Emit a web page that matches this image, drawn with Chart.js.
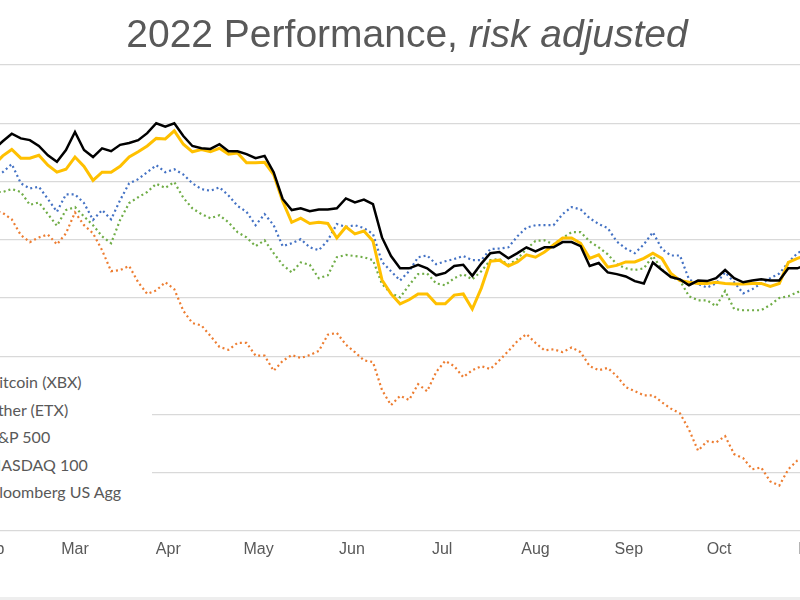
<!DOCTYPE html>
<html>
<head>
<meta charset="utf-8">
<script src="https://cdn.jsdelivr.net/npm/chart.js@4.4.1/dist/chart.umd.min.js"></script>
<style>
  html, body { margin: 0; padding: 0; width: 800px; height: 600px; overflow: hidden; background: #fff; }
  #wrap { position: relative; width: 800px; height: 600px; overflow: hidden; }
  #chart { position: absolute; left: -150px; top: 0; }
  #title {
    position: absolute; left: 0; top: 14px; width: 814px; text-align: center;
    font-family: 'Liberation Sans', Arial, sans-serif; font-size: 39px; line-height: 39px;
    color: #595959; white-space: nowrap;
  }
  #legend {
    position: absolute; left: -70px; top: 366px; width: 222px; height: 140px;
    background: #fff; font-family: Lato, 'Noto Sans', sans-serif; font-size: 16px; color: #595959;
  }
  .item { position: absolute; left: 0; height: 20px; line-height: 20px; white-space: nowrap; }
  .mark { display: inline-block; width: 36px; vertical-align: middle; margin-right: 23px; }
  #foot { position: absolute; left: 0; bottom: 0; width: 800px; height: 3px; background: #eeeeee; }
</style>
</head>
<body>
<div id="wrap">
  <canvas id="chart" width="1100" height="600"></canvas>
  <div id="title">2022 Performance, <i>risk adjusted</i></div>
  <div id="legend"></div>
  <div id="foot"></div>
</div>
<script>
// Day of year (Jan 1 = 0), sampled every 3 days
const days = [32,35,38,41,44,47,50,53,56,59,62,65,68,71,74,77,80,83,86,89,
  92,95,98,101,104,107,110,113,116,119,122,125,128,131,134,137,140,143,146,149,
  152,155,158,161,164,167,170,173,176,179,182,185,188,191,194,197,200,203,206,209,
  212,215,218,221,224,227,230,233,236,239,242,245,248,251,254,257,260,263,266,269,
  272,275,278,281,284,287,290,293,296,299,302];

// Month ticks
const monthStarts = [0,31,59,90,120,151,181,212,243,273,304,334];
const monthNames = ['Jan','Feb','Mar','Apr','May','Jun','Jul','Aug','Sep','Oct','Nov','Dec'];

// Series values (risk adjusted performance)
const bitcoin = [-4.5,-3.1,-1.8,-2.6,-2.9,-3.9,-5.5,-6.6,-4.6,-1.5,
  -4.6,-5.8,-4.3,-4.8,-3.7,-3.4,-2.9,-1.7,0.0,-0.6,
  0.0,-2.2,-3.9,-4.3,-4.4,-3.6,-4.8,-4.8,-5.3,-6.0,
  -5.6,-8.4,-13.0,-14.9,-14.6,-15.1,-14.8,-14.8,-14.6,-12.9,
  -13.6,-13.1,-13.9,-19.6,-22.8,-24.9,-24.9,-24.3,-24.9,-26.1,
  -25.7,-24.5,-24.3,-26.2,-24.1,-22.3,-22.1,-23.2,-22.3,-21.3,
  -22.0,-21.3,-21.3,-20.4,-20.4,-21.1,-24.5,-24.0,-25.6,-25.9,
  -26.3,-27.1,-27.5,-23.9,-25.2,-26.4,-26.8,-27.8,-27.0,-27.1,
  -26.6,-25.2,-26.6,-27.3,-27.0,-26.8,-27.0,-27.0,-24.9,-24.9,
  -24.3];
const ether = [-7.2,-5.6,-4.5,-6.0,-6.0,-5.5,-7.2,-8.4,-7.9,-5.8,
  -7.4,-9.8,-8.4,-8.4,-7.4,-5.8,-4.9,-3.9,-2.6,-2.7,
  -1.3,-3.6,-4.9,-4.5,-4.9,-4.3,-5.3,-5.1,-6.8,-6.8,
  -6.7,-8.8,-13.4,-17.0,-16.3,-17.2,-17.0,-17.2,-19.7,-17.8,
  -19.0,-18.5,-20.2,-26.9,-29.3,-31.0,-30.3,-29.3,-29.3,-31.0,
  -31.0,-29.5,-29.3,-31.9,-28.3,-23.7,-23.5,-24.5,-23.8,-22.6,
  -23.0,-22.1,-20.9,-19.7,-19.7,-20.6,-23.2,-22.6,-24.7,-24.4,
  -23.8,-23.8,-23.2,-22.3,-23.2,-25.8,-27.0,-27.3,-27.5,-27.5,
  -27.3,-27.5,-27.6,-27.6,-27.5,-27.5,-28.0,-27.5,-23.9,-23.2,
  -22.7];
const sp500 = [-9.4,-8.4,-7.0,-10.3,-11.2,-10.9,-13.0,-15.2,-12.2,-12.2,
  -13.7,-16.6,-14.9,-16.5,-13.2,-10.3,-9.6,-8.4,-7.2,-8.4,
  -7.9,-8.8,-10.3,-11.3,-11.6,-11.0,-12.4,-14.2,-15.2,-17.5,
  -15.6,-17.5,-21.1,-20.6,-19.9,-21.3,-21.8,-20.1,-17.3,-17.8,
  -17.5,-18.0,-19.0,-23.8,-25.4,-27.0,-25.4,-23.0,-22.7,-24.2,
  -23.7,-23.3,-22.8,-23.5,-23.5,-21.6,-21.5,-21.3,-19.4,-17.9,
  -17.5,-17.5,-17.5,-15.6,-14.4,-14.8,-16.3,-17.3,-18.0,-20.3,
  -21.5,-22.3,-20.8,-18.7,-21.6,-22.7,-22.7,-26.8,-27.6,-28.2,
  -27.5,-25.6,-27.3,-29.2,-28.5,-27.5,-26.6,-25.8,-23.9,-22.3,
  -21.5];
const nasdaq = [-11.8,-11.8,-11.3,-11.8,-14.0,-13.6,-15.6,-17.6,-14.9,-14.4,
  -16.0,-17.5,-19.4,-20.6,-16.6,-13.7,-12.7,-11.8,-10.4,-11.1,
  -10.1,-12.8,-14.6,-15.6,-16.3,-15.8,-17.0,-18.7,-19.6,-21.1,
  -20.1,-22.3,-24.3,-25.6,-23.9,-24.3,-26.6,-26.1,-23.0,-22.6,
  -22.8,-23.0,-23.5,-27.6,-29.2,-29.9,-27.8,-25.9,-25.8,-27.5,
  -27.8,-26.6,-25.9,-26.8,-25.4,-23.5,-23.3,-24.3,-23.3,-21.6,
  -20.2,-20.1,-20.8,-19.7,-18.7,-18.7,-20.3,-21.3,-22.5,-24.2,
  -24.9,-25.2,-24.9,-22.8,-25.1,-26.4,-27.0,-29.7,-30.4,-30.4,
  -31.4,-28.8,-31.9,-32.1,-32.1,-32.1,-31.2,-30.0,-29.7,-29.0,
  -28.7];
const usAgg = [-14.9,-15.4,-16.5,-19.2,-20.4,-19.6,-19.1,-20.8,-18.9,-15.3,
  -17.5,-18.9,-21.8,-25.4,-25.2,-24.5,-27.3,-29.3,-28.7,-27.3,
  -28.5,-32.2,-34.3,-34.7,-36.5,-38.4,-38.9,-37.7,-37.7,-39.9,
  -39.9,-42.5,-40.8,-39.8,-40.3,-39.8,-39.1,-36.3,-36.0,-38.0,
  -39.3,-40.7,-41.0,-45.8,-48.4,-46.8,-47.5,-44.8,-46.0,-42.7,
  -40.8,-41.7,-43.6,-42.4,-41.7,-42.2,-40.7,-39.1,-37.4,-36.2,
  -37.7,-39.0,-38.8,-39.3,-38.5,-39.3,-41.7,-42.4,-42.0,-43.4,
  -45.3,-46.0,-46.7,-46.7,-47.9,-49.0,-49.8,-52.6,-56.2,-54.6,
  -54.8,-53.7,-56.8,-57.5,-59.4,-59.1,-61.5,-62.2,-59.4,-57.9,
  -57.3];

const seriesNames = ['Bitcoin (XBX)', 'Ether (ETX)', 'S&P 500', 'NASDAQ 100', 'Bloomberg US Agg'];
const seriesValues = [bitcoin, ether, sp500, nasdaq, usAgg];
const seriesColors = ['#000000', '#ffc000', '#4472c4', '#70ad47', '#ed7d31'];
const seriesWidths = [2.5, 3, 2.2, 2.2, 2.2];
const seriesDotted = [false, false, true, true, true];

const datasets = seriesNames.map((name, i) => ({
  label: name,
  data: days.map((d, j) => ({ x: d, y: seriesValues[i][j] })),
  borderColor: seriesColors[i],
  borderWidth: seriesWidths[i],
  borderDash: seriesDotted[i] ? [2, 3] : [],
  pointRadius: 0,
  tension: 0,
  fill: false
}));

const ctx = document.getElementById('chart').getContext('2d');
new Chart(ctx, {
  type: 'line',
  data: { datasets },
  options: {
    responsive: false,
    animation: false,
    layout: { padding: { top: 65, left: 47.4, right: 47.3, bottom: 0 } },
    plugins: {
      legend: { display: false },
      tooltip: { enabled: false },
      title: { display: false }
    },
    scales: {
      x: {
        type: 'linear',
        min: 0,
        max: 334,
        grid: { display: false, drawTicks: false },
        border: { display: false },
        afterBuildTicks: (scale) => { scale.ticks = monthStarts.map(v => ({ value: v })); },
        afterFit: (scale) => { scale.height = 69; },
        ticks: {
          autoSkip: false,
          maxRotation: 0,
          padding: 9,
          color: '#595959',
          font: { family: 'Liberation Sans', size: 16 },
          callback: (value) => monthNames[monthStarts.indexOf(value)]
        }
      },
      y: {
        min: -70,
        max: 10,
        ticks: { display: false, stepSize: 10 },
        grid: { color: '#d9d9d9', lineWidth: 1.3, drawTicks: false },
        border: { display: false },
        afterFit: (scale) => { scale.width = 0; }
      }
    }
  }
});

// Legend box sitting over the lower-left of the plot
const legend = document.getElementById('legend');
seriesNames.forEach((name, i) => {
  const row = document.createElement('div');
  row.className = 'item';
  row.style.top = (6 + i * 27.5) + 'px';
  const mark = document.createElement('span');
  mark.className = 'mark';
  mark.style.borderTop = (seriesDotted[i] ? '2px dotted ' : '3px solid ') + seriesColors[i];
  row.appendChild(mark);
  row.appendChild(document.createTextNode(name));
  legend.appendChild(row);
});
</script>
</body>
</html>
